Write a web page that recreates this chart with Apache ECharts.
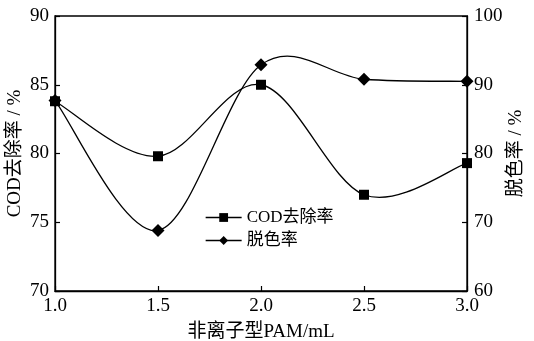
<!DOCTYPE html>
<html><head><meta charset="utf-8">
<script src="https://cdn.jsdelivr.net/npm/echarts@6/dist/echarts.min.js"></script>
<style>html,body{margin:0;padding:0;background:#fff}#c{width:534px;height:341px}</style>
</head><body><div id="c"></div>
<script>
const xValues = [1.0, 1.5, 2.0, 2.5, 3.0];
const codRemoval = [83.8, 79.8, 85.0, 77.0, 79.3];
const decolor = [87.7, 68.8, 92.9, 90.8, 90.5];
const xTicks = [1.0, 1.5, 2.0, 2.5, 3.0];
const leftTicks = [70, 75, 80, 85, 90];
const rightTicks = [60, 70, 80, 90, 100];

const FONT = "'Liberation Serif', 'Times New Roman', 'Noto Sans CJK SC', serif";
const axisCommon = {
  axisLine: {show: true, lineStyle: {color: '#000', width: 1.3}},
  axisTick: {show: true, inside: true, length: 5, lineStyle: {color: '#000', width: 1.2}},
  splitLine: {show: false},
  nameMoveOverlap: false,
  axisLabel: {color: '#000', fontFamily: FONT, fontSize: 19},
  nameTextStyle: {color: '#000', fontFamily: FONT, fontSize: 19}
};

// smooth curve through the measured points (Catmull-Rom rendered as cubic Bezier via axis scales)
function curveRenderer(ys) {
  return function (params, api) {
    const i = params.dataIndex;
    const n = xValues.length;
    if (i >= n - 1) return null;
    const p = k => [xValues[Math.max(0, Math.min(n - 1, k))], ys[Math.max(0, Math.min(n - 1, k))]];
    const P0 = p(i - 1), P1 = p(i), P2 = p(i + 1), P3 = p(i + 2);
    const c1 = [P1[0] + (P2[0] - P0[0]) / 6, P1[1] + (P2[1] - P0[1]) / 6];
    const c2 = [P2[0] - (P3[0] - P1[0]) / 6, P2[1] - (P3[1] - P1[1]) / 6];
    const a = api.coord(P1), b = api.coord(P2), q1 = api.coord(c1), q2 = api.coord(c2);
    return {
      type: 'bezierCurve',
      shape: {x1: a[0], y1: a[1], x2: b[0], y2: b[1], cpx1: q1[0], cpy1: q1[1], cpx2: q2[0], cpy2: q2[1]},
      style: {stroke: '#000', lineWidth: 1.3, fill: null}
    };
  };
}

const chart = echarts.init(document.getElementById('c'));
chart.setOption({
  animation: false,
  backgroundColor: '#fff',
  grid: {left: 55, right: 67, top: 16, bottom: 50, show: true, borderColor: '#000', borderWidth: 1.3,
         containLabel: false, outerBoundsMode: 'none'},
  legend: {
    orient: 'vertical', left: 200, top: 204, itemWidth: 36, itemHeight: 11, itemGap: 6, itemTextGap: 7,
    textStyle: {color: '#000', fontFamily: FONT, fontSize: 17},
    lineStyle: {color: '#000', width: 1.3, opacity: 1},
    data: ['COD去除率', '脱色率']
  },
  xAxis: Object.assign({}, axisCommon, {
    type: 'value', min: xTicks[0], max: xTicks[xTicks.length-1], interval: 0.5,
    name: '非离子型PAM/mL', nameLocation: 'middle', nameGap: 32,
    axisLabel: Object.assign({}, axisCommon.axisLabel, {margin: 6, formatter: v => v.toFixed(1)})
  }),
  yAxis: [
    Object.assign({}, axisCommon, {
      type: 'value', min: leftTicks[0], max: leftTicks[leftTicks.length-1], interval: 5,
      name: 'COD去除率 / %', nameLocation: 'middle', nameGap: 30,
      axisLabel: Object.assign({}, axisCommon.axisLabel, {margin: 6})
    }),
    Object.assign({}, axisCommon, {
      type: 'value', position: 'right', min: rightTicks[0], max: rightTicks[rightTicks.length-1], interval: 10,
      name: '脱色率 / %', nameLocation: 'middle', nameGap: 40,
      axisLabel: Object.assign({}, axisCommon.axisLabel, {margin: 7})
    })
  ],
  series: [
    {
      name: 'cod-curve', type: 'custom', yAxisIndex: 0, z: 1, silent: true,
      renderItem: curveRenderer(codRemoval),
      data: xValues.map((x, i) => [x, codRemoval[i]])
    },
    {
      name: 'decolor-curve', type: 'custom', yAxisIndex: 1, z: 1, silent: true,
      renderItem: curveRenderer(decolor),
      data: xValues.map((x, i) => [x, decolor[i]])
    },
    {
      name: 'COD去除率', type: 'line', yAxisIndex: 0, z: 3,
      symbol: 'rect', symbolSize: 10,
      lineStyle: {color: '#000', width: 1.3, opacity: 0}, itemStyle: {color: '#000'},
      data: xValues.map((x, i) => [x, codRemoval[i]])
    },
    {
      name: '脱色率', type: 'line', yAxisIndex: 1, z: 3,
      symbol: 'diamond', symbolSize: 13,
      lineStyle: {color: '#000', width: 1.3, opacity: 0}, itemStyle: {color: '#000'},
      data: xValues.map((x, i) => [x, decolor[i]])
    }
  ]
});
</script></body></html>
